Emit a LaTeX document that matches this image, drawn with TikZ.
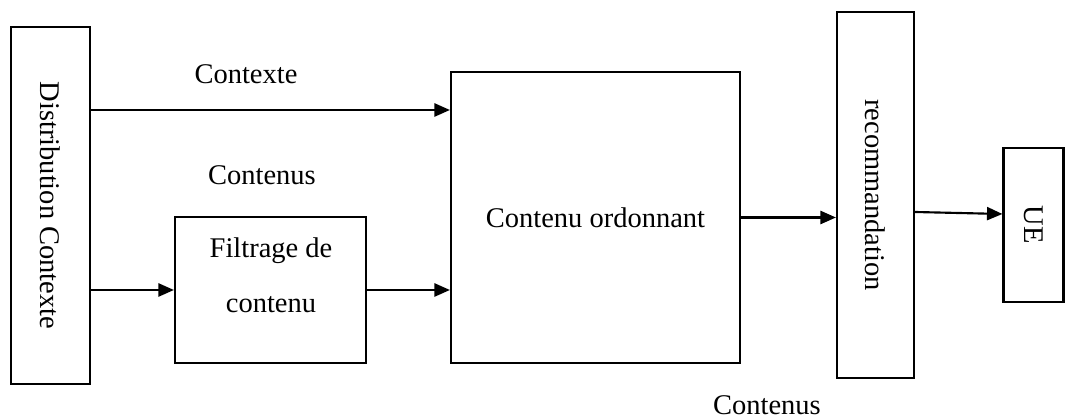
\documentclass[tikz,border=0pt]{standalone}
\usepackage{fontspec}
\setmainfont{Liberation Serif}
\usetikzlibrary{arrows.meta, positioning, calc}
\tikzset{
    box/.style={draw, line width=0.9pt, rectangle, inner sep=0pt},
    flow/.style={-{Triangle[length=6.5pt, width=5.5pt]}, line width=0.9pt},
    lbl/.style={inner sep=0pt},
    every node/.style={font=\fontsize{12}{14}\selectfont}
}

\begin{document}
\begin{tikzpicture}[x=0.0148cm, y=-0.0148cm]
    \useasboundingbox (0,0) rectangle (1065,417);
    % Blocks (rotated ones: north = right side, south = left side)
    \node[box, rotate=-90, minimum width=357*0.0148cm, minimum height=79*0.0148cm] (dist) at (50.5,205.5) {Distribution Contexte};
    \node[box, minimum width=191*0.0148cm, minimum height=146*0.0148cm] (filt) at (270.5,290) {};
    \node[lbl, align=center] (filttxt) at (271,275) {Filtrage de\\[9pt]contenu};
    \node[box, minimum width=289*0.0148cm, minimum height=291*0.0148cm] (ord) at (595.5,217.5) {Contenu ordonnant};
    \node[box, rotate=-90, minimum width=366*0.0148cm, minimum height=77*0.0148cm] (rec) at (875.5,195) {recommandation};
    \node[box, rotate=-90, minimum width=154*0.0148cm, minimum height=60*0.0148cm] (ue) at (1033.5,225) {UE};
    % Labels
    \node[lbl] (lctx) at (246,74) {Contexte};
    \node[lbl] (lcont) at (262,175) {Contenus};
    \node[lbl] (lcont2) at (767,405) {Contenus};
    % Links
    \coordinate (h1) at (0,110);
    \coordinate (h2) at (0,212);
    \coordinate (h3) at (0,214);
    \draw[flow] (dist.north |- h1) -- (ord.west |- h1);
    \draw[flow] (dist.north |- filt.west) -- (filt.west);
    \draw[flow] (filt.east) -- (ord.west |- filt.east);
    \draw[flow] (ord.east) -- (rec.south |- ord.east);
    \draw[flow] (rec.north |- h2) -- (ue.south |- h3);
\end{tikzpicture}
\end{document}
